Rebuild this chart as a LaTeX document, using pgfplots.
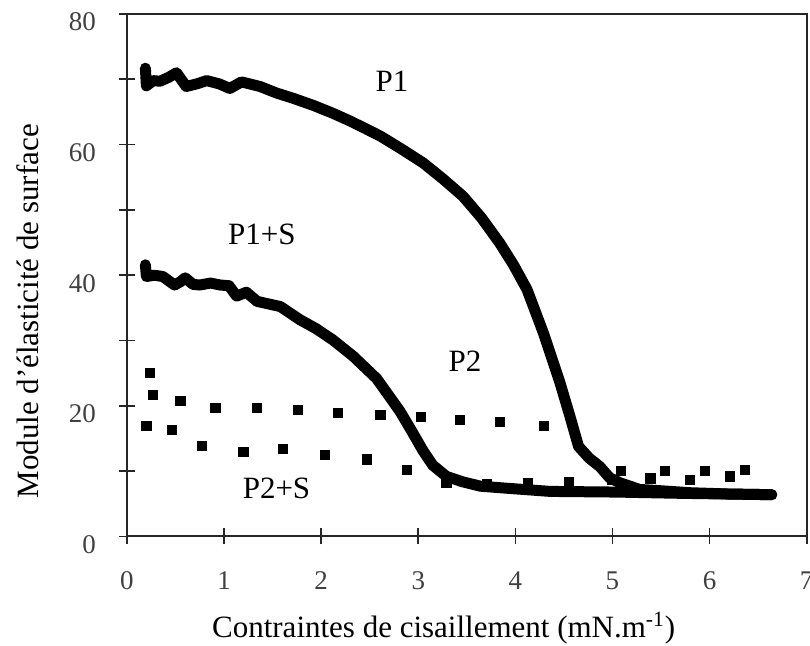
\documentclass[border=0pt]{standalone}
\usepackage{pgfplots}
\pgfplotsset{compat=1.18}
\usepackage{fontspec}
\setmainfont{Liberation Serif}
\begin{document}
\begin{tikzpicture}
\begin{axis}[
  name=ax,
  at={(0,0)}, anchor=south west,
  scale only axis,
  width=340pt, height=261.35pt,
  xmin=0, xmax=7, ymin=0, ymax=80,
  xtick={0,1,...,7},
  ytick={0,20,...,80},
  minor ytick={10,30,50,70},
  tick align=center,
  major tick length=8pt,
  minor tick length=8pt,
  xtick pos=bottom, ytick pos=left,
  tick style={black!85, line width=0.8pt},
  axis line style={black!85, line width=1pt},
  /pgf/number format/assume math mode=true,
  ticklabel style={font=\fontsize{13.5}{15}\selectfont, text=black!75},
  xticklabel style={anchor=base, yshift=-22.5pt},
  yticklabel style={anchor=east, yshift=-4pt, xshift=-8pt},
  xlabel={Contraintes de cisaillement (mN.m\textsuperscript{-1})},
  ylabel={Module d’élasticité de surface},
  label style={font=\fontsize{15.5}{18}\selectfont},
  xlabel style={at={(axis description cs:0.466,-0.193)}, anchor=base},
  ylabel style={at={(axis description cs:-0.1456,0.431)}, anchor=center},
  clip=false,
]
% P1
\addplot[black, line width=5.5pt, line join=round, line cap=round] coordinates {
(0.19,71.7)(0.20,69.0)(0.27,69.8)(0.34,69.7)(0.43,70.3)(0.51,71.0)(0.61,68.9)
(0.72,69.3)(0.82,69.8)(0.95,69.3)(1.06,68.6)(1.18,69.6)(1.37,68.9)(1.54,67.9)
(1.71,67.1)(1.92,66.0)(2.12,64.8)(2.30,63.6)(2.45,62.5)(2.61,61.3)(2.83,59.3)
(3.05,57.2)(3.25,54.8)(3.46,52.1)(3.65,48.8)(3.84,44.9)(3.98,41.6)(4.12,37.8)
(4.29,31.1)(4.46,23.5)(4.56,18.5)(4.65,13.8)(4.76,12.0)(4.87,10.7)(4.97,9.0)
(5.08,8.2)(5.28,7.2)(5.5,7.0)(5.8,6.7)(6.2,6.5)(6.64,6.4)
};
% P1+S
\addplot[black, line width=5.5pt, line join=round, line cap=round] coordinates {
(0.19,41.6)(0.20,39.8)(0.28,40.0)(0.37,39.8)(0.49,38.5)(0.55,39.0)(0.60,39.6)
(0.68,38.6)(0.75,38.5)(0.86,38.8)(0.96,38.5)(1.05,38.4)(1.13,36.8)(1.23,37.4)
(1.34,36.0)(1.46,35.6)(1.58,35.2)(1.78,33.2)(1.95,31.8)(2.12,30.1)(2.33,27.6)
(2.57,24.2)(2.70,21.5)(2.81,19.2)(2.93,16.2)(3.05,13.1)(3.15,10.9)(3.29,9.2)
(3.45,8.4)(3.64,7.7)(3.9,7.4)(4.36,6.9)(5.04,6.8)(5.73,6.6)(6.64,6.4)
};
% P2
\addplot[only marks, mark=square*, mark size=2.3pt, black] coordinates {
(0.24,25.0)(0.27,21.7)(0.55,20.7)(0.91,19.7)(1.34,19.7)(1.76,19.4)(2.17,18.9)
(2.61,18.6)(3.03,18.3)(3.43,17.9)(3.84,17.6)(4.29,16.9)(5.09,10.0)(5.54,10.0)
(5.95,10.1)(6.36,10.2)
};
% P2+S
\addplot[only marks, mark=square*, mark size=2.3pt, black] coordinates {
(0.20,16.9)(0.46,16.3)(0.77,13.9)(1.20,13.0)(1.61,13.4)(2.04,12.5)(2.47,11.8)
(2.88,10.2)(3.29,8.2)(3.71,8.1)(4.13,8.2)(4.55,8.4)(4.99,8.7)(5.39,8.9)
(5.80,8.7)(6.21,9.2)
};
\node[font=\fontsize{15.5}{18}\selectfont] at (axis cs:2.73,69.7) {P1};
\node[font=\fontsize{15.5}{18}\selectfont] at (axis cs:1.39,46.2) {P1+S};
\node[font=\fontsize{15.5}{18}\selectfont] at (axis cs:3.48,26.8) {P2};
\node[font=\fontsize{15.5}{18}\selectfont] at (axis cs:1.54,7.4) {P2+S};
\end{axis}
\pgfresetboundingbox
\useasboundingbox ([shift={(-63.5pt,-54.65pt)}]ax.south west) rectangle ([shift={(1.65pt,7pt)}]ax.north east);
\end{tikzpicture}
\end{document}
